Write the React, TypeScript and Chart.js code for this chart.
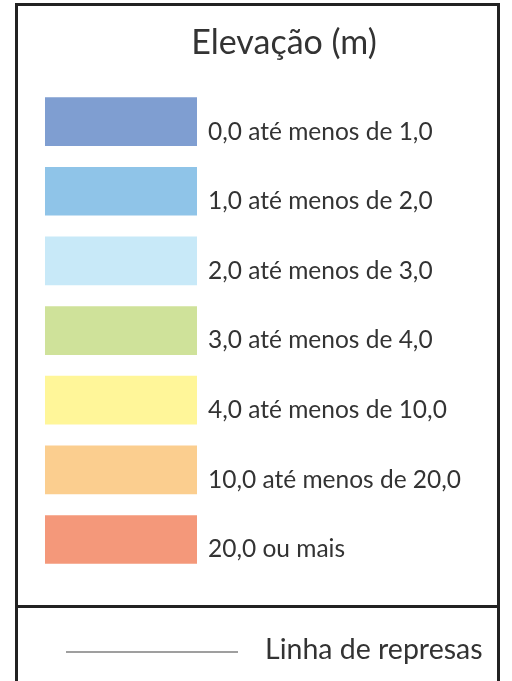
import React, { useEffect, useRef } from "react";
import { Chart, registerables } from "chart.js";

Chart.register(...registerables);

// ---- data ----
const titleText = "Elevação (m)";
const classLabels = [
  "0,0 até menos de 1,0",
  "1,0 até menos de 2,0",
  "2,0 até menos de 3,0",
  "3,0 até menos de 4,0",
  "4,0 até menos de 10,0",
  "10,0 até menos de 20,0",
  "20,0 ou mais",
];
const classValues = [1, 1, 1, 1, 1, 1, 1];
const classColors = ["#7F9ED1", "#8FC4E8", "#C8E9F8", "#CFE29A", "#FFF699", "#FBCE8F", "#F4987A"];
const damLabels = ["Linha de represas"];
const damLineX = [0, 1];

const FONT = "Lato, 'Noto Sans', sans-serif";
const TEXT = "#333333";

export default function App() {
  const topRef = useRef<HTMLCanvasElement | null>(null);
  const botRef = useRef<HTMLCanvasElement | null>(null);

  useEffect(() => {
    const c1 = new Chart(topRef.current as HTMLCanvasElement, {
      type: "bar",
      data: {
        labels: classLabels,
        datasets: [
          {
            data: classValues,
            backgroundColor: classColors,
            borderWidth: 0,
            barThickness: 48,
          },
        ],
      },
      options: {
        indexAxis: "y",
        responsive: false,
        animation: false,
        layout: { padding: { left: 0, right: 0, top: 0, bottom: 23 } },
        plugins: {
          legend: { display: false },
          tooltip: { enabled: false },
          title: {
            display: true,
            text: titleText,
            color: TEXT,
            font: { family: FONT, size: 34, weight: "normal", lineHeight: 1.2 },
            padding: { top: 23, bottom: 23 },
          },
        },
        scales: {
          x: { type: "linear", display: false, min: 0, max: 1 },
          y: {
            type: "category",
            position: "right",
            offset: true,
            grid: { display: false, drawTicks: false },
            border: { display: false },
            ticks: {
              color: TEXT,
              padding: 11,
              labelOffset: 10,
              autoSkip: false,
              crossAlign: "near",
              font: { family: FONT, size: 24.5 },
            },
            afterFit: (s: any) => {
              s.width = 326;
            },
          },
        },
      },
    } as any);

    const c2 = new Chart(botRef.current as HTMLCanvasElement, {
      type: "line",
      data: {
        labels: damLabels,
        datasets: [
          {
            data: damLineX.map((x) => ({ x, y: damLabels[0] })),
            borderColor: "#555555",
            borderWidth: 1.5,
            pointRadius: 0,
            fill: false,
          },
        ],
      },
      options: {
        indexAxis: "y",
        responsive: false,
        animation: false,
        layout: { padding: { left: 66, right: 0, top: 25, bottom: 0 } },
        plugins: { legend: { display: false }, tooltip: { enabled: false } },
        scales: {
          x: { type: "linear", display: false, min: 0, max: 1 },
          y: {
            type: "category",
            position: "right",
            offset: true,
            grid: { display: false, drawTicks: false },
            border: { display: false },
            ticks: {
              color: TEXT,
              padding: 27,
              labelOffset: -2,
              crossAlign: "near",
              font: { family: FONT, size: 28.5 },
            },
            afterFit: (s: any) => {
              s.width = 274;
            },
          },
        },
      },
    } as any);

    return () => {
      c1.destroy();
      c2.destroy();
    };
  }, []);

  return (
    <div
      style={{
        position: "absolute",
        left: 0,
        top: 0,
        width: 512,
        height: 681,
        overflow: "hidden",
        background: "#ffffff",
      }}
    >
      <div
        style={{
          position: "absolute",
          left: 15,
          top: 3,
          width: 485,
          height: 720,
          boxSizing: "border-box",
          borderTop: "3px solid #222",
          borderLeft: "3px solid #222",
          borderRight: "3px solid #222",
        }}
      />
      <div
        style={{
          position: "absolute",
          left: 15,
          top: 605,
          width: 485,
          height: 3,
          background: "#222",
        }}
      />
      <canvas
        ref={topRef}
        width={478}
        height={600}
        style={{ position: "absolute", left: 45, top: 0, width: 478, height: 600 }}
      />
      <canvas
        ref={botRef}
        width={512}
        height={73}
        style={{ position: "absolute", left: 0, top: 608, width: 512, height: 73 }}
      />
    </div>
  );
}
